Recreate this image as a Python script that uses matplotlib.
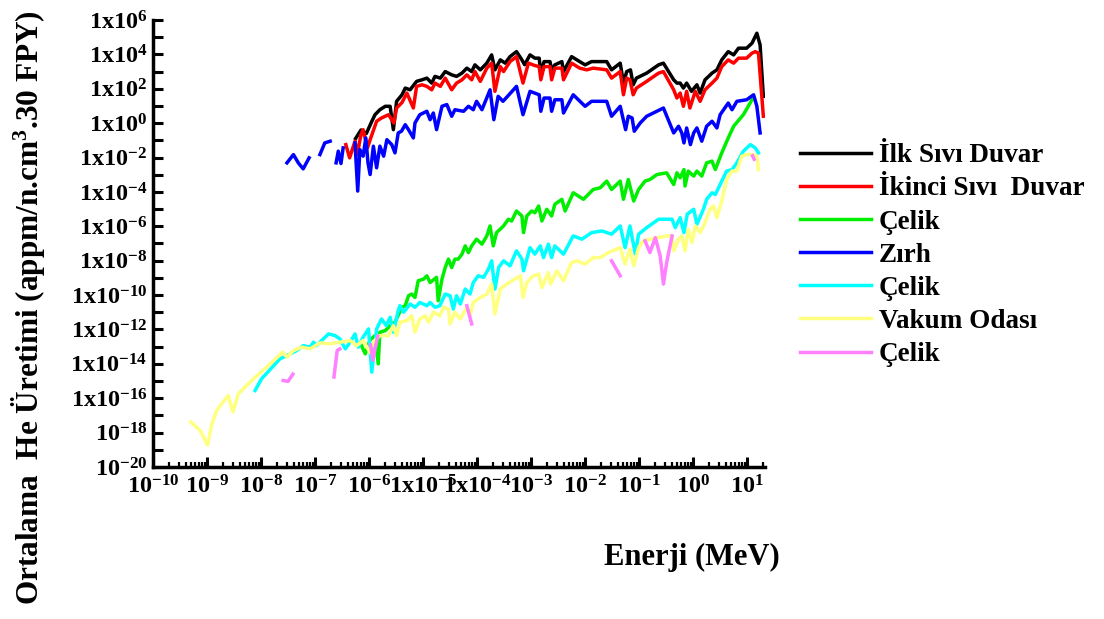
import numpy as np
import matplotlib
matplotlib.use('Agg')
import matplotlib.pyplot as plt
from matplotlib.ticker import LogLocator, NullFormatter, NullLocator

plt.rcParams['font.family'] = ['Liberation Serif', 'DejaVu Serif']
plt.rcParams['font.weight'] = 'bold'
plt.rcParams['mathtext.fontset'] = 'custom'
plt.rcParams['mathtext.rm'] = 'Liberation Serif:bold'
plt.rcParams['mathtext.it'] = 'Liberation Serif:bold'
plt.rcParams['mathtext.bf'] = 'Liberation Serif:bold'
plt.rcParams['mathtext.default'] = 'rm'

nan = np.nan

# data as (log10 E [MeV], log10 He production); nan = gap
ilk_sivi = [(-6.25, -0.9), (-6.15, -0.4), (-6.05, -0.6), (-5.95, 0.1), (-5.89, 0.49), (-5.80, 0.78),
            (-5.70, 0.98), (-5.61, 0.98), (-5.55, -0.38), (-5.49, 1.27), (-5.39, 1.65), (-5.33, 2.04),
            (-5.24, 1.94), (-5.12, 2.43), (-5.02, 2.52), (-4.93, 2.62), (-4.84, 2.33), (-4.78, 2.72),
            (-4.68, 2.62), (-4.59, 3.0), (-4.47, 2.81), (-4.38, 2.72), (-4.28, 2.91), (-4.19, 3.20),
            (-4.10, 3.0), (-4.04, 3.39), (-3.94, 3.10), (-3.82, 3.49), (-3.73, 3.97), (-3.67, 3.10),
            (-3.57, 3.68), (-3.48, 3.49), (-3.39, 3.87), (-3.27, 4.16), (-3.17, 3.68), (-3.12, 3.4),
            (-3.02, 3.97), (-2.93, 3.78), (-2.85, 3.78), (-2.82, 2.91), (-2.76, 3.58), (-2.65, 3.58),
            (-2.62, 3.10), (-2.56, 3.39), (-2.43, 3.58), (-2.40, 3.0), (-2.25, 3.87), (-2.10, 3.58),
            (-2.0, 3.39), (-1.88, 3.58), (-1.60, 3.58), (-1.51, 3.10), (-1.35, 3.49), (-1.29, 2.33),
            (-1.23, 3.0), (-1.16, 3.10), (-1.11, 2.23), (-1.05, 2.62), (-0.86, 2.91), (-0.64, 3.39),
            (-0.55, 3.49), (-0.36, 2.52), (-0.30, 2.33), (-0.24, 2.33), (-0.18, 2.04), (-0.12, 2.33),
            (-0.03, 1.85), (0.07, 2.23), (0.13, 1.75), (0.22, 2.52), (0.35, 2.91), (0.44, 3.10),
            (0.53, 3.68), (0.65, 4.16), (0.75, 3.97), (0.84, 4.36), (0.99, 4.36), (1.09, 4.65),
            (1.18, 5.23), (1.24, 4.55), (1.30, 1.56)]

ikinci_sivi = [(-6.43, -1.25), (-6.36, -2.02), (-6.26, -1.05), (-6.22, -1.83), (-6.15, -0.67), (-6.11, -0.38),
               (-6.03, -1.44), (-5.98, -0.96), (-5.86, 0.11), (-5.77, 0.30), (-5.64, 0.49), (-5.54, 0.01),
               (-5.49, 0.88), (-5.39, 1.2), (-5.30, 1.75), (-5.18, 0.88), (-5.12, 2.14), (-5.02, 2.23),
               (-4.93, 2.14), (-4.84, 1.94), (-4.78, 2.33), (-4.68, 2.14), (-4.59, 2.62), (-4.47, 1.94),
               (-4.38, 2.33), (-4.28, 2.52), (-4.19, 2.81), (-4.10, 2.52), (-4.04, 3.0), (-3.94, 2.43),
               (-3.82, 3.20), (-3.73, 3.49), (-3.67, 1.85), (-3.57, 3.29), (-3.51, 3.0), (-3.39, 3.58),
               (-3.27, 3.87), (-3.15, 2.33), (-3.05, 3.49), (-2.93, 3.35), (-2.85, 3.29), (-2.82, 2.52),
               (-2.76, 3.29), (-2.65, 3.29), (-2.62, 2.52), (-2.56, 3.20), (-2.43, 3.20), (-2.40, 2.52),
               (-2.25, 3.49), (-2.10, 3.20), (-1.97, 3.10), (-1.85, 3.20), (-1.60, 3.10), (-1.51, 2.62),
               (-1.35, 3.0), (-1.29, 1.65), (-1.23, 2.62), (-1.17, 2.52), (-1.11, 1.65), (-1.05, 2.04),
               (-0.86, 2.43), (-0.64, 2.91), (-0.55, 3.0), (-0.36, 1.94), (-0.30, 1.46), (-0.24, 1.75),
               (-0.18, 0.98), (-0.12, 1.85), (-0.06, 0.88), (0.04, 1.85), (0.13, 1.27), (0.22, 1.94),
               (0.35, 2.33), (0.44, 2.62), (0.53, 3.29), (0.65, 3.68), (0.75, 3.49), (0.84, 3.78),
               (0.99, 3.78), (1.09, 4.07), (1.15, 4.16), (1.21, 4.07), (1.30, 0.40)]

celik1 = [(-6.14, -12.94), (-6.07, -13.42), (-5.98, -12.6), (-5.89, -12.36), (-5.83, -14.0), (-5.80, -12.16),
          (-5.70, -12.07), (-5.61, -11.78), (-5.52, -11.58), (-5.39, -10.71), (-5.33, -10.62), (-5.27, -10.04),
          (-5.21, -9.94), (-5.15, -10.14), (-5.09, -9.17), (-4.99, -9.07), (-4.93, -8.88), (-4.87, -9.27),
          (-4.75, -8.97), (-4.72, -10.33), (-4.65, -9.07), (-4.59, -8.40), (-4.53, -7.91), (-4.47, -8.40),
          (-4.41, -7.91), (-4.35, -7.91), (-4.28, -7.62), (-4.22, -7.14), (-4.16, -7.53), (-4.10, -7.14),
          (-4.01, -6.75), (-3.91, -7.04), (-3.82, -6.56), (-3.76, -5.98), (-3.70, -7.14), (-3.64, -6.37),
          (-3.51, -5.98), (-3.42, -5.59), (-3.36, -5.69), (-3.27, -5.11), (-3.17, -5.40), (-3.14, -6.37),
          (-3.08, -5.40), (-2.99, -5.11), (-2.93, -5.21), (-2.86, -4.82), (-2.80, -5.69), (-2.71, -5.01),
          (-2.62, -5.40), (-2.56, -4.72), (-2.43, -4.43), (-2.37, -5.11), (-2.22, -4.05), (-2.03, -4.43),
          (-1.85, -3.86), (-1.72, -3.76), (-1.60, -3.37), (-1.51, -3.86), (-1.35, -3.37), (-1.29, -4.43),
          (-1.20, -3.28), (-1.10, -4.53), (-1.01, -3.86), (-0.89, -3.37), (-0.80, -3.28), (-0.67, -2.99),
          (-0.49, -2.89), (-0.36, -3.57), (-0.30, -2.89), (-0.24, -3.18), (-0.17, -2.70), (-0.15, -3.66),
          (-0.09, -2.79), (0.01, -3.08), (0.07, -2.79), (0.16, -3.08), (0.25, -2.31), (0.35, -2.21),
          (0.41, -2.70), (0.53, -1.73), (0.65, -0.86), (0.75, -0.18), (0.93, 0.49), (1.09, 1.36)]

zirh = [(-7.52, -2.31), (-7.40, -1.83), (-7.31, -2.31), (-7.22, -2.66), (-7.11, -2.02), (nan, nan),
        (-6.91, -1.83), (-6.82, -1.15), (-6.72, -1.05), (nan, nan),
        (-6.61, -2.31), (-6.57, -1.63), (-6.52, -2.35), (-6.48, -1.44), (nan, nan),
        (-6.26, -1.15), (-6.21, -3.95), (-6.17, -1.54), (-6.11, -1.92), (-6.06, -0.86), (-6.02, -2.31),
        (-5.98, -2.99), (-5.92, -1.34), (-5.86, -2.60), (-5.80, -1.34), (-5.73, -1.92), (-5.67, -0.96),
        (-5.58, -1.25), (-5.52, -1.73), (-5.46, -0.57), (-5.40, -0.47), (-5.33, -0.09), (-5.27, -0.38),
        (-5.18, -0.86), (-5.15, 0.01), (-5.06, 0.49), (-4.93, 0.69), (-4.87, 0.20), (-4.81, 0.59),
        (-4.75, -0.38), (-4.65, 0.98), (-4.56, 1.08), (-4.47, 0.40), (-4.41, 0.78), (-4.25, 0.69),
        (-4.16, 0.98), (-4.07, 0.78), (-4.01, 1.27), (-3.91, 0.78), (-3.76, 1.94), (-3.69, 0.20),
        (-3.61, 1.56), (-3.52, 1.27), (-3.41, 1.65), (-3.27, 2.14), (-3.15, 0.49), (-3.02, 1.85),
        (-2.85, 1.65), (-2.82, 0.69), (-2.76, 1.46), (-2.65, 1.46), (-2.62, 0.69), (-2.56, 1.36),
        (-2.43, 1.36), (-2.40, 0.59), (-2.22, 1.65), (-2.0, 0.98), (-1.88, 1.27), (-1.60, 1.27),
        (-1.51, 0.40), (-1.35, 0.98), (-1.25, -0.38), (-1.20, 0.40), (-1.13, 0.30), (-1.09, -0.47),
        (-0.98, 0.01), (-0.86, 0.40), (-0.55, 0.88), (-0.36, -0.57), (-0.27, -0.18), (-0.21, -0.57),
        (-0.17, -1.15), (-0.12, -0.28), (-0.05, -1.25), (0.01, -0.57), (0.07, -0.28), (0.16, -1.05),
        (0.25, -0.18), (0.35, 0.11), (0.44, -0.28), (0.50, 0.49), (0.65, 1.17), (0.72, 0.78),
        (0.81, 1.27), (0.99, 1.36), (1.12, 1.65), (1.18, 0.98), (1.24, -0.57)]

celik2 = [(-8.11, -15.55), (-7.99, -14.87), (-7.65, -13.71), (-7.52, -13.52), (-7.34, -13.23), (-7.22, -12.94),
          (-7.09, -13.03), (-7.03, -12.74), (-6.97, -12.94), (-6.91, -12.74), (-6.75, -12.26), (-6.63, -12.36),
          (-6.54, -12.55), (-6.44, -13.13), (-6.35, -12.74), (-6.26, -12.26), (-6.20, -13.03), (-6.11, -12.45),
          (-6.01, -11.97), (-5.95, -14.48), (-5.86, -11.97), (-5.77, -11.39), (-5.68, -11.78), (-5.61, -11.29),
          (-5.55, -12.16), (-5.46, -10.91), (-5.43, -10.62), (-5.36, -11.00), (-5.24, -10.52), (-5.15, -10.71),
          (-5.06, -10.43), (-4.93, -10.62), (-4.87, -10.43), (-4.78, -10.71), (-4.69, -10.62), (-4.59, -9.94),
          (-4.50, -10.04), (-4.44, -10.81), (-4.38, -10.04), (-4.31, -10.52), (-4.22, -9.65), (-4.13, -9.94),
          (-4.07, -9.27), (-3.98, -8.88), (-3.88, -8.97), (-3.79, -8.49), (-3.73, -8.01), (-3.67, -9.65),
          (-3.60, -8.39), (-3.51, -8.01), (-3.39, -8.30), (-3.27, -7.43), (-3.17, -7.91), (-3.14, -8.59),
          (-3.02, -7.24), (-2.93, -7.62), (-2.83, -7.14), (-2.77, -7.82), (-2.68, -7.04), (-2.62, -7.82),
          (-2.56, -7.14), (-2.40, -7.62), (-2.22, -6.56), (-2.06, -6.75), (-1.88, -6.37), (-1.69, -6.27),
          (-1.51, -6.46), (-1.35, -5.98), (-1.26, -7.24), (-1.17, -5.98), (-1.07, -7.62), (-1.01, -6.46),
          (-0.86, -6.08), (-0.64, -5.59), (-0.39, -5.59), (-0.33, -6.08), (-0.24, -5.50), (-0.17, -6.37),
          (-0.11, -5.30), (0.01, -5.01), (0.07, -5.88), (0.19, -5.01), (0.25, -4.43), (0.35, -4.05),
          (0.41, -4.15), (0.50, -3.57), (0.62, -2.79), (0.72, -2.70), (0.81, -2.31), (0.93, -1.63),
          (1.06, -1.25), (1.15, -1.44), (1.21, -1.73)]

vakum = [(-9.30, -17.38), (-9.13, -17.87), (-8.99, -18.73), (-8.91, -17.48), (-8.82, -16.71), (-8.61, -15.84),
         (-8.52, -16.80), (-8.42, -15.74), (-8.14, -14.87), (-7.93, -14.29), (-7.60, -13.32), (-7.52, -13.61),
         (-7.40, -13.23), (-7.25, -13.03), (-7.09, -13.13), (-6.91, -12.78), (-6.72, -12.84), (-6.54, -12.74),
         (-6.35, -12.65), (-6.23, -12.94), (-6.11, -12.65), (-5.98, -13.35), (-5.92, -12.74), (-5.80, -12.36),
         (-5.64, -12.36), (-5.55, -11.78), (-5.49, -12.36), (-5.43, -11.58), (-5.30, -11.49), (-5.21, -11.20),
         (-5.15, -12.16), (-5.06, -11.39), (-4.96, -11.20), (-4.90, -11.58), (-4.81, -11.00), (-4.69, -11.20),
         (-4.62, -10.71), (-4.53, -10.81), (-4.50, -11.68), (-4.41, -11.00), (-4.31, -11.39), (-4.19, -10.71),
         (-4.13, -11.20), (-4.07, -10.43), (-3.94, -10.14), (-3.82, -9.94), (-3.73, -9.36), (-3.67, -11.10),
         (-3.57, -9.65), (-3.45, -9.36), (-3.30, -9.07), (-3.20, -8.88), (-3.15, -10.14), (-3.08, -9.27),
         (-2.96, -8.88), (-2.86, -8.78), (-2.80, -9.56), (-2.68, -8.69), (-2.64, -9.36), (-2.52, -8.59),
         (-2.40, -9.17), (-2.25, -8.11), (-2.15, -8.01), (-2.00, -8.20), (-1.85, -7.82), (-1.72, -7.82),
         (-1.57, -7.53), (-1.35, -7.24), (-1.26, -8.20), (-1.17, -7.33), (-1.10, -8.30), (-1.01, -7.24),
         (-0.92, -6.85), (-0.80, -6.75), (-0.64, -6.66), (-0.49, -6.56), (-0.39, -6.56), (-0.36, -7.43),
         (-0.27, -6.75), (-0.21, -6.56), (-0.15, -7.43), (-0.09, -6.17), (-0.02, -6.95), (0.04, -5.98),
         (0.13, -6.37), (0.22, -5.79), (0.31, -5.01), (0.38, -4.82), (0.44, -5.50), (0.53, -4.53),
         (0.62, -3.28), (0.72, -2.79), (0.81, -2.79), (0.90, -1.92), (0.99, -1.83), (1.12, -1.83),
         (1.18, -1.92), (1.21, -2.70)]

celik3 = [(-7.59, -14.97), (-7.50, -15.02), (-7.41, -14.60), (nan, nan),
          (-6.65, -14.77), (-6.59, -13.23), (-6.54, -13.13), (nan, nan),
          (-5.97, -12.9), (-5.93, -13.8), (-5.88, -13.0), (-5.84, -12.4), (nan, nan),
          (-4.19, -10.62), (-4.10, -11.68), (nan, nan),
          (-1.51, -8.01), (-1.35, -8.88), (nan, nan),
          (-0.89, -6.85), (-0.80, -7.53), (-0.70, -6.66), (-0.61, -7.72), (-0.55, -9.36), (-0.49, -8.11),
          (-0.39, -6.56), (nan, nan),
          (1.10, -1.9), (1.13, -2.1)]

labels = ['İlk Sıvı Duvar', 'İkinci Sıvı  Duvar', 'Çelik', 'Zırh', 'Çelik', 'Vakum Odası', 'Çelik']
colors = ['#000000', '#ff0000', '#00ee00', '#0000ff', '#00ffff', '#ffff80', '#ff80ff']
series = [ilk_sivi, ikinci_sivi, celik1, zirh, celik2, vakum, celik3]

x_exp = list(range(-10, 2))
x_ticklabels = ['$10^{-10}$', '$10^{-9}$', '$10^{-8}$', '$10^{-7}$', '$10^{-6}$', '1x$10^{-5}$',
                '1x$10^{-4}$', '$10^{-3}$', '$10^{-2}$', '$10^{-1}$', '$10^{0}$', '$10^{1}$']
y_exp = list(range(-20, 7))
y_ticklabels = {6: '1x$10^{6}$', 4: '1x$10^{4}$', 2: '1x$10^{2}$', 0: '1x$10^{0}$',
                -2: '1x$10^{-2}$', -4: '1x$10^{-4}$', -6: '1x$10^{-6}$', -8: '1x$10^{-8}$',
                -10: '1x$10^{-10}$', -12: '1x$10^{-12}$', -14: '1x$10^{-14}$', -16: '1x$10^{-16}$',
                -18: '$10^{-18}$', -20: '$10^{-20}$'}

fig = plt.figure(figsize=(11.04, 6.19), dpi=100)
ax = fig.add_axes([0.1386, 0.2456, 0.5543, 0.7221])

for data, lab, col in zip(series, labels, colors):
    d = np.array(data, dtype=float)
    ax.plot(10.0 ** d[:, 0], 10.0 ** d[:, 1], color=col, lw=2.5, label=lab)

ax.set_xscale('log')
ax.set_yscale('log')
ax.set_xlim(1e-10, 10 ** 1.33)
ax.set_ylim(1e-20, 1e6)

ax.set_xticks([10.0 ** e for e in x_exp])
ax.set_xticklabels(x_ticklabels)
ax.xaxis.set_minor_locator(LogLocator(base=10, subs=np.arange(2, 10), numticks=40))
ax.xaxis.set_minor_formatter(NullFormatter())
ax.set_yticks([10.0 ** e for e in y_exp])
ax.set_yticklabels([y_ticklabels.get(e, '') for e in y_exp])
ax.yaxis.set_minor_locator(NullLocator())

ax.tick_params(which='major', direction='in', length=7, width=2.2, labelsize=17.5, pad=6)
ax.tick_params(which='minor', direction='in', length=3.5, width=1.6)
ax.tick_params(axis='y', pad=4)
for s in ['top', 'right']:
    ax.spines[s].set_visible(False)
for s in ['left', 'bottom']:
    ax.spines[s].set_linewidth(2.5)

fig.text(0.025, 0.503, 'Ortalama  He Üretimi (appm/n.cm$^{3}$.30 FPY)', rotation=90,
         ha='center', va='center', fontsize=22.5, fontweight='bold')
fig.text(0.627, 0.10, 'Enerji (MeV)', ha='center', va='center', fontsize=22, fontweight='bold')

ax.legend(loc='upper left', bbox_to_anchor=(0.715, 0.786), bbox_transform=fig.transFigure,
          frameon=False, fontsize=19.5, handlelength=2.6, handletextpad=0.3, labelspacing=0.3,
          borderaxespad=0)

fig.savefig('out.png', dpi=100)
